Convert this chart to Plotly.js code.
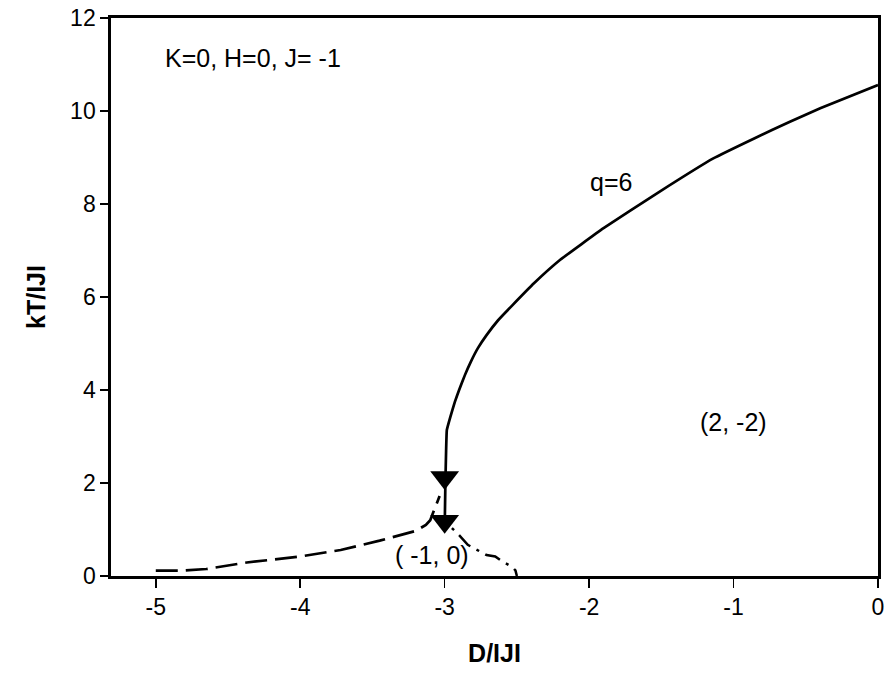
<!DOCTYPE html>
<html>
<head>
<meta charset="utf-8">
<script src="https://cdn.plot.ly/plotly-3.0.1.min.js"></script>
<style>html,body{margin:0;padding:0;background:#fff;}#chart{width:888px;height:684px;}</style>
</head>
<body>
<div id="chart"></div>
<script>
// q=6 solid transition line
const qX = [-3.0, -2.995, -2.99, -2.985, -2.96, -2.93, -2.90, -2.86, -2.82, -2.77, -2.71, -2.63, -2.535, -2.38, -2.20, -1.90, -1.53, -1.14, -0.85, -0.61, -0.40, 0];
const qY = [1.0, 2.0, 2.7, 3.14, 3.43, 3.74, 4.0, 4.32, 4.6, 4.9, 5.18, 5.5, 5.81, 6.3, 6.80, 7.48, 8.23, 8.98, 9.42, 9.77, 10.06, 10.56];
// dashed line
const dashX = [-5.0, -4.81, -4.65, -4.37, -4.0, -3.72, -3.45, -3.365, -3.2, -3.13, -3.10, -3.035];
const dashY = [0.115, 0.115, 0.15, 0.29, 0.42, 0.56, 0.76, 0.83, 0.97, 1.1, 1.2, 1.72];
// dash-dot line
const dotX = [-2.95, -2.9, -2.84, -2.71, -2.65, -2.6, -2.535, -2.51, -2.5];
const dotY = [1.03, 0.88, 0.67, 0.45, 0.42, 0.31, 0.2, 0.12, 0.0];
// arrow heads
const arrowX = [-3.0, -3.0];
const arrowY = [2.12, 1.18];
// tick values
const xTicks = [-5, -4, -3, -2, -1, 0];
const yTicks = [0, 2, 4, 6, 8, 10, 12];

const FONT = 'Liberation Sans, Arial, sans-serif';

const traces = [
  {x: qX, y: qY, mode: 'lines', line: {color: '#000', width: 2.7, shape: 'spline', smoothing: 0.3}, hoverinfo: 'skip'},
  {x: dashX, y: dashY, mode: 'lines', line: {color: '#000', width: 2.7, dash: '22px,8px'}, hoverinfo: 'skip'},
  {x: dotX, y: dotY, mode: 'lines', line: {color: '#000', width: 2.5, dash: '3px,7px,16px,7px'}, hoverinfo: 'skip'},
  {x: arrowX, y: arrowY, mode: 'markers', marker: {symbol: 'triangle-down', size: 25, color: '#000'}, hoverinfo: 'skip'}
];

const layout = {
  width: 888, height: 684,
  margin: {l: 111, r: 10, t: 18, b: 108},
  paper_bgcolor: '#fff', plot_bgcolor: '#fff',
  showlegend: false,
  font: {family: FONT, size: 23, color: '#000'},
  xaxis: {
    range: [-5.31, 0], tickvals: xTicks, ticktext: xTicks.map(String),
    showgrid: false, zeroline: false,
    showline: true, linecolor: '#000', linewidth: 2.7, mirror: true,
    ticks: 'outside', ticklen: 9, tickwidth: 1.5, tickcolor: '#000',
    tickfont: {family: FONT, size: 23, color: '#000'},
    title: {text: '<b>D/IJI</b>', font: {family: FONT, size: 25, color: '#000'}, standoff: 26}
  },
  yaxis: {
    range: [0, 12], tickvals: yTicks, ticktext: yTicks.map(String),
    showgrid: false, zeroline: false,
    showline: true, linecolor: '#000', linewidth: 2.7, mirror: true,
    ticks: 'outside', ticklen: 8, tickwidth: 1.5, tickcolor: '#000',
    tickfont: {family: FONT, size: 23, color: '#000'},
    title: {text: '<b>kT/IJI</b>', font: {family: FONT, size: 25, color: '#000'}, standoff: 18}
  },
  annotations: [
    {x: -4.948, y: 11.14, xref: 'x', yref: 'y', text: 'K=0, H=0, J= -1', showarrow: false, xanchor: 'left', yanchor: 'middle', font: {family: FONT, size: 25, color: '#000'}},
    {x: -1.85, y: 8.48, xref: 'x', yref: 'y', text: 'q=6', showarrow: false, xanchor: 'center', yanchor: 'middle', font: {family: FONT, size: 25, color: '#000'}},
    {x: -1.0, y: 3.32, xref: 'x', yref: 'y', text: '(2, -2)', showarrow: false, xanchor: 'center', yanchor: 'middle', font: {family: FONT, size: 25, color: '#000'}},
    {x: -3.09, y: 0.45, xref: 'x', yref: 'y', text: '( -1, 0)', showarrow: false, xanchor: 'center', yanchor: 'middle', font: {family: FONT, size: 25, color: '#000'}}
  ]
};

Plotly.newPlot('chart', traces, layout, {displayModeBar: false, staticPlot: true});
</script>
</body>
</html>
